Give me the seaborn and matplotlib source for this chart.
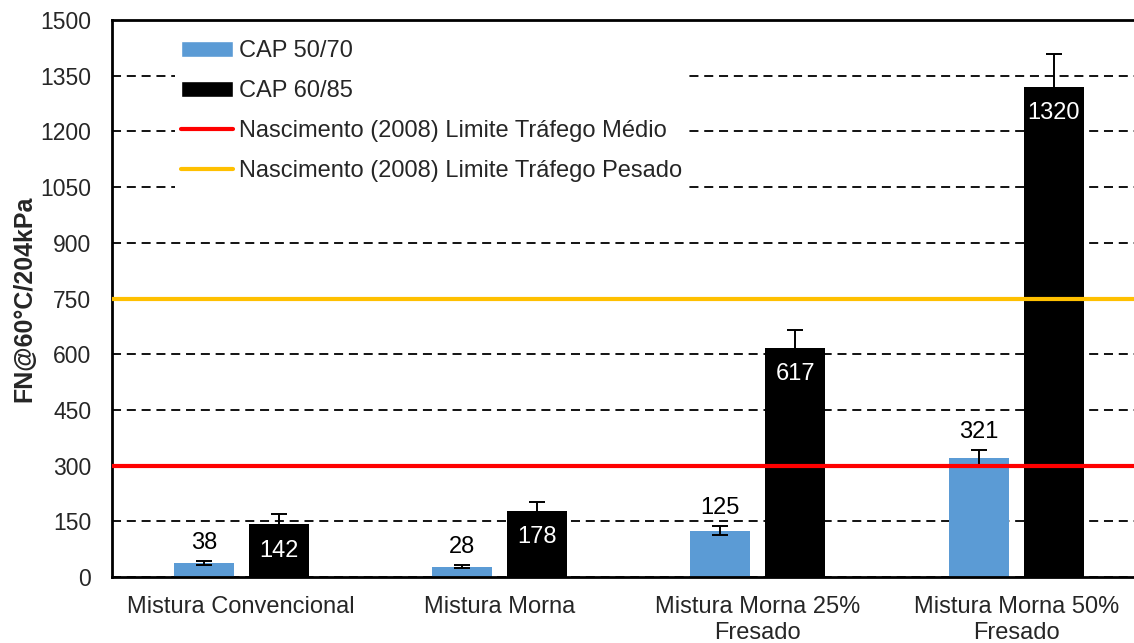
import numpy as np
import pandas as pd
import seaborn as sns
import matplotlib.pyplot as plt
from matplotlib.patches import Patch

# dados
misturas = ["Mistura Convencional", "Mistura Morna", "Mistura Morna 25%\nFresado", "Mistura Morna 50%\nFresado"]
cap_5070 = [38, 28, 125, 321]
cap_6085 = [142, 178, 617, 1320]
err_5070 = [6, 4, 12, 22]
err_6085 = [27, 25, 49, 89]
limite_medio = 300
limite_pesado = 750
yticks = np.arange(0, 1501, 150)

cor_azul = "#5B9BD5"
cor_preto = "#000000"
cor_vermelho = "#FF0000"
cor_amarelo = "#FFC000"

df = pd.DataFrame({
    "mistura": misturas * 2,
    "FN": cap_5070 + cap_6085,
    "err": err_5070 + err_6085,
    "cap": ["CAP 50/70"] * 4 + ["CAP 60/85"] * 4,
})

sns.set_style("white")
plt.rcParams['font.family'] = ['Liberation Sans', 'DejaVu Sans']

fig = plt.figure(figsize=(11.34, 6.43), dpi=100)
ax = fig.add_axes([112 / 1134, 1 - 577 / 643, 1 - 112 / 1134 + 0.01, (577 - 20) / 643])

sns.barplot(data=df, x="mistura", y="FN", hue="cap", palette=[cor_azul, cor_preto],
            width=0.58, gap=0.2, errorbar=None, ax=ax, legend=False, zorder=2,
            edgecolor="none", saturation=1)

# barras de erro e rotulos
for cont, vals, errs, serie in zip(ax.containers, [cap_5070, cap_6085], [err_5070, err_6085], ["a", "p"]):
    xs = [p.get_x() + p.get_width() / 2 for p in cont.patches]
    ax.errorbar(xs, vals, yerr=errs, fmt="none", ecolor="black", elinewidth=1.4,
                capsize=6, capthick=1.4, zorder=3)
    for x, v, e in zip(xs, vals, errs):
        if serie == "a":
            ax.annotate(str(v), (x, v + e), xytext=(0, 5), textcoords="offset points",
                        ha="center", va="bottom", fontsize=17, color="black")
        else:
            ax.annotate(str(v), (x, v), xytext=(0, -11), textcoords="offset points",
                        ha="center", va="top", fontsize=17, color="white", zorder=4)

l1 = ax.axhline(limite_medio, color=cor_vermelho, lw=3, zorder=3,
                label="Nascimento (2008) Limite Tráfego Médio")
l2 = ax.axhline(limite_pesado, color=cor_amarelo, lw=3, zorder=3,
                label="Nascimento (2008) Limite Tráfego Pesado")

ax.set_ylim(0, 1500)
ax.set_xlim(-0.5, 3.5)
ax.set_yticks(yticks)
ax.set_yticklabels([str(t) for t in yticks])
ax.yaxis.grid(True, color="black", linestyle=(0, (5, 3.2)), linewidth=1.3, zorder=0)
ax.set_axisbelow(True)
ax.tick_params(axis="y", length=0, labelsize=16.5, pad=15)
ax.tick_params(axis="x", length=0, labelsize=17, pad=14)
ax.set_xlabel("")
ax.set_ylabel("FN@60°C/204kPa", fontsize=18, fontweight="bold", labelpad=3)
for s in ["left", "bottom", "top"]:
    ax.spines[s].set_color("black")
    ax.spines[s].set_linewidth(2)
ax.spines["right"].set_visible(False)

handles = [Patch(facecolor=cor_azul, label="CAP 50/70"),
           Patch(facecolor=cor_preto, label="CAP 60/85"), l1, l2]
leg = ax.legend(handles=handles, loc="upper left", bbox_to_anchor=(0.05, 0.995),
                fontsize=17, frameon=True, framealpha=1, edgecolor="white",
                fancybox=False, handlelength=2.2, handletextpad=0.25,
                labelspacing=0.76, borderpad=0.25)
leg.get_frame().set_linewidth(0)
leg.set_zorder(5)

fig.savefig("out.png", dpi=100)
